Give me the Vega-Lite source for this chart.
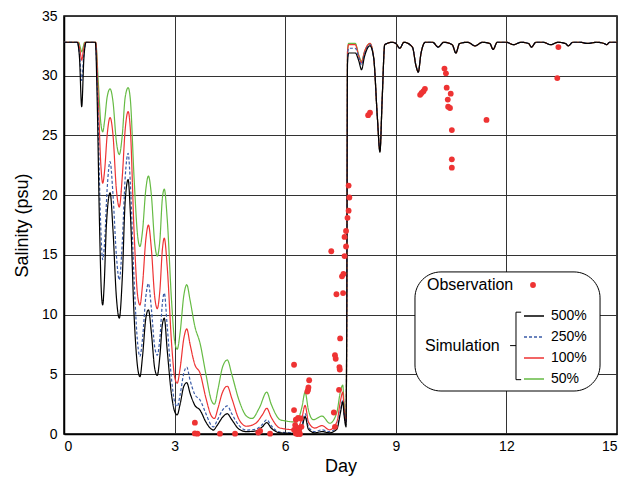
{
  "$schema": "https://vega.github.io/schema/vega-lite/v6.json",
  "width": 553,
  "height": 418,
  "autosize": "none",
  "padding": {"left": 64, "top": 16, "right": 10, "bottom": 44},
  "config": {
    "font": "Liberation Sans",
    "view": {"stroke": "#000", "strokeWidth": 1.5},
    "axis": {"gridColor": "#333", "gridOpacity": 1, "gridWidth": 1, "domainColor": "#000", "domainWidth": 1.5, "ticks": false, "labelFontSize": 14, "labelColor": "#000", "titleFontSize": 18, "titleFontWeight": "normal", "titleColor": "#000"}
  },
  "datasets": {
    "sim": [
      {"s":"50%","d":0,"v":32.8},{"s":"50%","d":0.4,"v":32.8},{"s":"50%","d":0.44,"v":32.4},{"s":"50%","d":0.48,"v":32.0},{"s":"50%","d":0.52,"v":32.4},{"s":"50%","d":0.56,"v":32.8},{"s":"50%","d":0.86,"v":32.8},{"s":"50%","d":0.93,"v":29.5},{"s":"50%","d":1.0,"v":26},{"s":"50%","d":1.05,"v":25.3},{"s":"50%","d":1.1,"v":26.2},{"s":"50%","d":1.17,"v":28.2},{"s":"50%","d":1.25,"v":28.9},{"s":"50%","d":1.33,"v":27.8},{"s":"50%","d":1.42,"v":24.5},{"s":"50%","d":1.5,"v":23.4},{"s":"50%","d":1.58,"v":25},{"s":"50%","d":1.66,"v":28.2},{"s":"50%","d":1.74,"v":29.0},{"s":"50%","d":1.8,"v":28},{"s":"50%","d":1.9,"v":21.5},{"s":"50%","d":2.0,"v":16.5},{"s":"50%","d":2.06,"v":15.7},{"s":"50%","d":2.13,"v":17},{"s":"50%","d":2.22,"v":20.5},{"s":"50%","d":2.29,"v":21.6},{"s":"50%","d":2.37,"v":20},{"s":"50%","d":2.46,"v":16},{"s":"50%","d":2.53,"v":14.9},{"s":"50%","d":2.6,"v":16.2},{"s":"50%","d":2.67,"v":19.8},{"s":"50%","d":2.72,"v":20.5},{"s":"50%","d":2.8,"v":18},{"s":"50%","d":2.92,"v":11},{"s":"50%","d":3.0,"v":7.8},{"s":"50%","d":3.07,"v":7.1},{"s":"50%","d":3.15,"v":8.5},{"s":"50%","d":3.25,"v":11.6},{"s":"50%","d":3.33,"v":12.5},{"s":"50%","d":3.42,"v":11.2},{"s":"50%","d":3.55,"v":9},{"s":"50%","d":3.69,"v":7.6},{"s":"50%","d":3.85,"v":5},{"s":"50%","d":4.0,"v":2.8},{"s":"50%","d":4.08,"v":2.5},{"s":"50%","d":4.18,"v":3.8},{"s":"50%","d":4.3,"v":5.6},{"s":"50%","d":4.43,"v":6.2},{"s":"50%","d":4.55,"v":5},{"s":"50%","d":4.75,"v":2.8},{"s":"50%","d":4.95,"v":1.5},{"s":"50%","d":5.1,"v":1.3},{"s":"50%","d":5.3,"v":2.2},{"s":"50%","d":5.5,"v":3.5},{"s":"50%","d":5.62,"v":2.5},{"s":"50%","d":5.86,"v":1.2},{"s":"50%","d":6.0,"v":1.1},{"s":"50%","d":6.3,"v":1.0},{"s":"50%","d":6.45,"v":2.2},{"s":"50%","d":6.54,"v":3.5},{"s":"50%","d":6.63,"v":2.0},{"s":"50%","d":6.76,"v":1.2},{"s":"50%","d":7.0,"v":1.5},{"s":"50%","d":7.21,"v":0.9},{"s":"50%","d":7.4,"v":1.8},{"s":"50%","d":7.5,"v":3.6},{"s":"50%","d":7.56,"v":4.1},{"s":"50%","d":7.6,"v":2.5},{"s":"50%","d":7.65,"v":1.2},{"s":"50%","d":7.67,"v":10},{"s":"50%","d":7.69,"v":32},{"s":"50%","d":7.72,"v":32.7},{"s":"50%","d":7.9,"v":32.7},{"s":"50%","d":8.0,"v":31.7},{"s":"50%","d":8.07,"v":31.2},{"s":"50%","d":8.15,"v":32},{"s":"50%","d":8.3,"v":32.7},
      {"s":"50%","d":8.4,"v":31.5},{"s":"50%","d":8.5,"v":26.5},{"s":"50%","d":8.57,"v":23.7},{"s":"50%","d":8.63,"v":28},{"s":"50%","d":8.7,"v":32.6},{"s":"50%","d":8.9,"v":32.8},{"s":"50%","d":9.0,"v":32.7},{"s":"50%","d":9.11,"v":32.3},{"s":"50%","d":9.22,"v":32.8},{"s":"50%","d":9.45,"v":32.4},{"s":"50%","d":9.55,"v":30.8},{"s":"50%","d":9.61,"v":30.3},{"s":"50%","d":9.68,"v":31.8},{"s":"50%","d":9.8,"v":32.8},{"s":"50%","d":10.0,"v":32.8},{"s":"50%","d":10.15,"v":32.4},{"s":"50%","d":10.3,"v":32.8},{"s":"50%","d":10.53,"v":32.6},{"s":"50%","d":10.63,"v":31.9},{"s":"50%","d":10.73,"v":32.7},{"s":"50%","d":10.95,"v":32.8},{"s":"50%","d":11.15,"v":32.5},{"s":"50%","d":11.35,"v":32.8},{"s":"50%","d":11.55,"v":32.7},{"s":"50%","d":11.64,"v":32.2},{"s":"50%","d":11.75,"v":32.8},{"s":"50%","d":12.0,"v":32.8},{"s":"50%","d":12.19,"v":32.6},{"s":"50%","d":12.4,"v":32.8},{"s":"50%","d":12.6,"v":32.7},{"s":"50%","d":12.68,"v":32.4},{"s":"50%","d":12.8,"v":32.8},{"s":"50%","d":13.0,"v":32.8},{"s":"50%","d":13.2,"v":32.6},{"s":"50%","d":13.4,"v":32.8},{"s":"50%","d":13.6,"v":32.7},{"s":"50%","d":13.68,"v":32.5},{"s":"50%","d":13.8,"v":32.8},{"s":"50%","d":14.0,"v":32.8},{"s":"50%","d":14.2,"v":32.7},{"s":"50%","d":14.45,"v":32.8},{"s":"50%","d":14.65,"v":32.7},{"s":"50%","d":14.72,"v":32.6},{"s":"50%","d":14.8,"v":32.8},{"s":"50%","d":15.0,"v":32.8},

      {"s":"100%","d":0,"v":32.8},{"s":"100%","d":0.38,"v":32.8},{"s":"100%","d":0.43,"v":32.2},{"s":"100%","d":0.48,"v":31.3},{"s":"100%","d":0.53,"v":32.2},{"s":"100%","d":0.58,"v":32.8},{"s":"100%","d":0.86,"v":32.8},{"s":"100%","d":0.93,"v":28},{"s":"100%","d":1.0,"v":22.5},{"s":"100%","d":1.05,"v":21.0},{"s":"100%","d":1.1,"v":22},{"s":"100%","d":1.17,"v":25},{"s":"100%","d":1.25,"v":26.5},{"s":"100%","d":1.33,"v":25},{"s":"100%","d":1.42,"v":20.5},{"s":"100%","d":1.5,"v":19.0},{"s":"100%","d":1.58,"v":21.5},{"s":"100%","d":1.66,"v":25.5},{"s":"100%","d":1.74,"v":27.0},{"s":"100%","d":1.8,"v":25.5},{"s":"100%","d":1.9,"v":17},{"s":"100%","d":2.0,"v":11.5},{"s":"100%","d":2.06,"v":10.8},{"s":"100%","d":2.13,"v":12.5},{"s":"100%","d":2.22,"v":16.3},{"s":"100%","d":2.29,"v":17.5},{"s":"100%","d":2.37,"v":15.5},{"s":"100%","d":2.46,"v":11.5},{"s":"100%","d":2.53,"v":10.5},{"s":"100%","d":2.6,"v":12},{"s":"100%","d":2.67,"v":15.5},{"s":"100%","d":2.72,"v":16.4},{"s":"100%","d":2.8,"v":14},{"s":"100%","d":2.92,"v":7.5},{"s":"100%","d":3.0,"v":4.8},{"s":"100%","d":3.07,"v":4.25},{"s":"100%","d":3.15,"v":5.5},{"s":"100%","d":3.25,"v":8.0},{"s":"100%","d":3.33,"v":8.8},{"s":"100%","d":3.42,"v":7.5},{"s":"100%","d":3.55,"v":5.8},{"s":"100%","d":3.69,"v":5.1},{"s":"100%","d":3.85,"v":3.0},{"s":"100%","d":4.0,"v":1.5},{"s":"100%","d":4.08,"v":1.3},{"s":"100%","d":4.18,"v":2.2},{"s":"100%","d":4.3,"v":3.5},{"s":"100%","d":4.43,"v":4.0},{"s":"100%","d":4.55,"v":3.0},{"s":"100%","d":4.75,"v":1.2},{"s":"100%","d":4.95,"v":0.65},{"s":"100%","d":5.2,"v":0.9},{"s":"100%","d":5.38,"v":1.6},{"s":"100%","d":5.5,"v":2.15},{"s":"100%","d":5.62,"v":1.4},{"s":"100%","d":5.86,"v":0.5},{"s":"100%","d":6.3,"v":0.35},{"s":"100%","d":6.45,"v":1.3},{"s":"100%","d":6.54,"v":2.4},{"s":"100%","d":6.63,"v":1.0},{"s":"100%","d":6.8,"v":0.5},{"s":"100%","d":7.0,"v":0.7},{"s":"100%","d":7.2,"v":0.35},{"s":"100%","d":7.4,"v":1.0},{"s":"100%","d":7.5,"v":2.8},{"s":"100%","d":7.56,"v":3.5},{"s":"100%","d":7.6,"v":2.0},{"s":"100%","d":7.65,"v":1.0},{"s":"100%","d":7.67,"v":10},{"s":"100%","d":7.69,"v":32},{"s":"100%","d":7.72,"v":32.6},{"s":"100%","d":7.9,"v":32.6},{"s":"100%","d":8.0,"v":31.6},{"s":"100%","d":8.07,"v":31.1},{"s":"100%","d":8.15,"v":32},{"s":"100%","d":8.3,"v":32.7},
      {"s":"100%","d":8.4,"v":31.5},{"s":"100%","d":8.5,"v":26.5},{"s":"100%","d":8.57,"v":23.7},{"s":"100%","d":8.63,"v":28},{"s":"100%","d":8.7,"v":32.6},{"s":"100%","d":8.9,"v":32.8},{"s":"100%","d":9.0,"v":32.7},{"s":"100%","d":9.11,"v":32.3},{"s":"100%","d":9.22,"v":32.8},{"s":"100%","d":9.45,"v":32.4},{"s":"100%","d":9.55,"v":30.8},{"s":"100%","d":9.61,"v":30.3},{"s":"100%","d":9.68,"v":31.8},{"s":"100%","d":9.8,"v":32.8},{"s":"100%","d":10.0,"v":32.8},{"s":"100%","d":10.15,"v":32.4},{"s":"100%","d":10.3,"v":32.8},{"s":"100%","d":10.53,"v":32.6},{"s":"100%","d":10.63,"v":31.9},{"s":"100%","d":10.73,"v":32.7},{"s":"100%","d":10.95,"v":32.8},{"s":"100%","d":11.15,"v":32.5},{"s":"100%","d":11.35,"v":32.8},{"s":"100%","d":11.55,"v":32.7},{"s":"100%","d":11.64,"v":32.2},{"s":"100%","d":11.75,"v":32.8},{"s":"100%","d":12.0,"v":32.8},{"s":"100%","d":12.19,"v":32.6},{"s":"100%","d":12.4,"v":32.8},{"s":"100%","d":12.6,"v":32.7},{"s":"100%","d":12.68,"v":32.4},{"s":"100%","d":12.8,"v":32.8},{"s":"100%","d":13.0,"v":32.8},{"s":"100%","d":13.2,"v":32.6},{"s":"100%","d":13.4,"v":32.8},{"s":"100%","d":13.6,"v":32.7},{"s":"100%","d":13.68,"v":32.5},{"s":"100%","d":13.8,"v":32.8},{"s":"100%","d":14.0,"v":32.8},{"s":"100%","d":14.2,"v":32.7},{"s":"100%","d":14.45,"v":32.8},{"s":"100%","d":14.65,"v":32.7},{"s":"100%","d":14.72,"v":32.6},{"s":"100%","d":14.8,"v":32.8},{"s":"100%","d":15.0,"v":32.8},

      {"s":"250%","d":0,"v":32.8},{"s":"250%","d":0.36,"v":32.8},{"s":"250%","d":0.42,"v":31.8},{"s":"250%","d":0.48,"v":29.6},{"s":"250%","d":0.54,"v":31.8},{"s":"250%","d":0.6,"v":32.8},{"s":"250%","d":0.85,"v":32.8},{"s":"250%","d":0.91,"v":28.5},{"s":"250%","d":0.98,"v":19},{"s":"250%","d":1.05,"v":14.6},{"s":"250%","d":1.1,"v":16},{"s":"250%","d":1.17,"v":20.5},{"s":"250%","d":1.25,"v":22.8},{"s":"250%","d":1.33,"v":20},{"s":"250%","d":1.42,"v":15},{"s":"250%","d":1.5,"v":12.9},{"s":"250%","d":1.58,"v":16},{"s":"250%","d":1.66,"v":21.5},{"s":"250%","d":1.74,"v":23.5},{"s":"250%","d":1.8,"v":21},{"s":"250%","d":1.9,"v":13},{"s":"250%","d":2.0,"v":7.5},{"s":"250%","d":2.06,"v":6.5},{"s":"250%","d":2.13,"v":8},{"s":"250%","d":2.22,"v":11.5},{"s":"250%","d":2.29,"v":12.6},{"s":"250%","d":2.37,"v":10.5},{"s":"250%","d":2.46,"v":7.3},{"s":"250%","d":2.53,"v":6.6},{"s":"250%","d":2.6,"v":8},{"s":"250%","d":2.67,"v":11},{"s":"250%","d":2.72,"v":11.8},{"s":"250%","d":2.8,"v":9},{"s":"250%","d":2.92,"v":4.5},{"s":"250%","d":3.0,"v":2.7},{"s":"250%","d":3.07,"v":2.3},{"s":"250%","d":3.15,"v":3.3},{"s":"250%","d":3.25,"v":5.1},{"s":"250%","d":3.33,"v":5.6},{"s":"250%","d":3.42,"v":4.5},{"s":"250%","d":3.55,"v":3.3},{"s":"250%","d":3.69,"v":2.85},{"s":"250%","d":3.85,"v":1.7},{"s":"250%","d":4.0,"v":0.7},{"s":"250%","d":4.05,"v":0.6},{"s":"250%","d":4.15,"v":1.1},{"s":"250%","d":4.3,"v":2.0},{"s":"250%","d":4.43,"v":2.35},{"s":"250%","d":4.55,"v":1.7},{"s":"250%","d":4.75,"v":0.7},{"s":"250%","d":4.95,"v":0.33},{"s":"250%","d":5.2,"v":0.4},{"s":"250%","d":5.38,"v":0.8},{"s":"250%","d":5.5,"v":1.2},{"s":"250%","d":5.62,"v":0.7},{"s":"250%","d":5.86,"v":0.15},{"s":"250%","d":6.3,"v":0.1},{"s":"250%","d":6.45,"v":0.7},{"s":"250%","d":6.54,"v":1.7},{"s":"250%","d":6.63,"v":0.6},{"s":"250%","d":6.8,"v":0.2},{"s":"250%","d":7.0,"v":0.35},{"s":"250%","d":7.2,"v":0.2},{"s":"250%","d":7.4,"v":0.6},{"s":"250%","d":7.5,"v":2.0},{"s":"250%","d":7.56,"v":2.8},{"s":"250%","d":7.6,"v":1.6},{"s":"250%","d":7.65,"v":0.8},{"s":"250%","d":7.67,"v":10},{"s":"250%","d":7.69,"v":31.5},{"s":"250%","d":7.72,"v":32.3},{"s":"250%","d":7.9,"v":32.3},{"s":"250%","d":8.0,"v":31.5},{"s":"250%","d":8.07,"v":30.9},{"s":"250%","d":8.15,"v":31.8},{"s":"250%","d":8.3,"v":32.6},
      {"s":"250%","d":8.4,"v":31.5},{"s":"250%","d":8.5,"v":26.5},{"s":"250%","d":8.57,"v":23.7},{"s":"250%","d":8.63,"v":28},{"s":"250%","d":8.7,"v":32.6},{"s":"250%","d":8.9,"v":32.8},{"s":"250%","d":9.0,"v":32.7},{"s":"250%","d":9.11,"v":32.3},{"s":"250%","d":9.22,"v":32.8},{"s":"250%","d":9.45,"v":32.4},{"s":"250%","d":9.55,"v":30.8},{"s":"250%","d":9.61,"v":30.3},{"s":"250%","d":9.68,"v":31.8},{"s":"250%","d":9.8,"v":32.8},{"s":"250%","d":10.0,"v":32.8},{"s":"250%","d":10.15,"v":32.4},{"s":"250%","d":10.3,"v":32.8},{"s":"250%","d":10.53,"v":32.6},{"s":"250%","d":10.63,"v":31.9},{"s":"250%","d":10.73,"v":32.7},{"s":"250%","d":10.95,"v":32.8},{"s":"250%","d":11.15,"v":32.5},{"s":"250%","d":11.35,"v":32.8},{"s":"250%","d":11.55,"v":32.7},{"s":"250%","d":11.64,"v":32.2},{"s":"250%","d":11.75,"v":32.8},{"s":"250%","d":12.0,"v":32.8},{"s":"250%","d":12.19,"v":32.6},{"s":"250%","d":12.4,"v":32.8},{"s":"250%","d":12.6,"v":32.7},{"s":"250%","d":12.68,"v":32.4},{"s":"250%","d":12.8,"v":32.8},{"s":"250%","d":13.0,"v":32.8},{"s":"250%","d":13.2,"v":32.6},{"s":"250%","d":13.4,"v":32.8},{"s":"250%","d":13.6,"v":32.7},{"s":"250%","d":13.68,"v":32.5},{"s":"250%","d":13.8,"v":32.8},{"s":"250%","d":14.0,"v":32.8},{"s":"250%","d":14.2,"v":32.7},{"s":"250%","d":14.45,"v":32.8},{"s":"250%","d":14.65,"v":32.7},{"s":"250%","d":14.72,"v":32.6},{"s":"250%","d":14.8,"v":32.8},{"s":"250%","d":15.0,"v":32.8},

      {"s":"500%","d":0,"v":32.8},{"s":"500%","d":0.36,"v":32.8},{"s":"500%","d":0.42,"v":31.5},{"s":"500%","d":0.48,"v":27.4},{"s":"500%","d":0.54,"v":31.5},{"s":"500%","d":0.6,"v":32.8},{"s":"500%","d":0.85,"v":32.8},{"s":"500%","d":0.9,"v":28},{"s":"500%","d":0.96,"v":18},{"s":"500%","d":1.02,"v":11.5},{"s":"500%","d":1.05,"v":10.8},{"s":"500%","d":1.09,"v":12.5},{"s":"500%","d":1.15,"v":17.5},{"s":"500%","d":1.25,"v":20.2},{"s":"500%","d":1.33,"v":17},{"s":"500%","d":1.42,"v":11.5},{"s":"500%","d":1.5,"v":9.7},{"s":"500%","d":1.58,"v":13},{"s":"500%","d":1.66,"v":19.5},{"s":"500%","d":1.74,"v":21.3},{"s":"500%","d":1.8,"v":18.5},{"s":"500%","d":1.9,"v":10},{"s":"500%","d":2.0,"v":5.5},{"s":"500%","d":2.06,"v":4.8},{"s":"500%","d":2.13,"v":6.5},{"s":"500%","d":2.22,"v":9.7},{"s":"500%","d":2.29,"v":10.4},{"s":"500%","d":2.37,"v":8.5},{"s":"500%","d":2.46,"v":5.5},{"s":"500%","d":2.53,"v":4.9},{"s":"500%","d":2.6,"v":6.5},{"s":"500%","d":2.67,"v":9.2},{"s":"500%","d":2.72,"v":9.7},{"s":"500%","d":2.8,"v":7},{"s":"500%","d":2.92,"v":3.2},{"s":"500%","d":3.0,"v":1.9},{"s":"500%","d":3.07,"v":1.6},{"s":"500%","d":3.15,"v":2.5},{"s":"500%","d":3.25,"v":4.0},{"s":"500%","d":3.33,"v":4.3},{"s":"500%","d":3.42,"v":3.4},{"s":"500%","d":3.55,"v":2.4},{"s":"500%","d":3.69,"v":2.0},{"s":"500%","d":3.85,"v":1.0},{"s":"500%","d":4.0,"v":0.4},{"s":"500%","d":4.05,"v":0.33},{"s":"500%","d":4.15,"v":0.7},{"s":"500%","d":4.3,"v":1.4},{"s":"500%","d":4.43,"v":1.7},{"s":"500%","d":4.55,"v":1.2},{"s":"500%","d":4.75,"v":0.4},{"s":"500%","d":4.95,"v":0.2},{"s":"500%","d":5.2,"v":0.25},{"s":"500%","d":5.38,"v":0.6},{"s":"500%","d":5.5,"v":0.95},{"s":"500%","d":5.62,"v":0.5},{"s":"500%","d":5.86,"v":0.1},{"s":"500%","d":6.3,"v":0.05},{"s":"500%","d":6.45,"v":0.5},{"s":"500%","d":6.54,"v":1.45},{"s":"500%","d":6.63,"v":0.4},{"s":"500%","d":6.8,"v":0.1},{"s":"500%","d":7.0,"v":0.2},{"s":"500%","d":7.2,"v":0.1},{"s":"500%","d":7.4,"v":0.4},{"s":"500%","d":7.5,"v":1.8},{"s":"500%","d":7.56,"v":2.7},{"s":"500%","d":7.6,"v":1.5},{"s":"500%","d":7.65,"v":0.6},{"s":"500%","d":7.67,"v":10},{"s":"500%","d":7.69,"v":31.0},{"s":"500%","d":7.72,"v":31.9},{"s":"500%","d":7.9,"v":31.9},{"s":"500%","d":8.0,"v":31.2},{"s":"500%","d":8.07,"v":30.5},{"s":"500%","d":8.15,"v":31.6},{"s":"500%","d":8.3,"v":32.5},
      {"s":"500%","d":8.4,"v":31.5},{"s":"500%","d":8.5,"v":26.5},{"s":"500%","d":8.57,"v":23.6},{"s":"500%","d":8.63,"v":28},{"s":"500%","d":8.7,"v":32.6},{"s":"500%","d":8.9,"v":32.8},{"s":"500%","d":9.0,"v":32.7},{"s":"500%","d":9.11,"v":32.3},{"s":"500%","d":9.22,"v":32.8},{"s":"500%","d":9.45,"v":32.4},{"s":"500%","d":9.55,"v":30.8},{"s":"500%","d":9.61,"v":30.3},{"s":"500%","d":9.68,"v":31.8},{"s":"500%","d":9.8,"v":32.8},{"s":"500%","d":10.0,"v":32.8},{"s":"500%","d":10.15,"v":32.4},{"s":"500%","d":10.3,"v":32.8},{"s":"500%","d":10.53,"v":32.6},{"s":"500%","d":10.63,"v":31.9},{"s":"500%","d":10.73,"v":32.7},{"s":"500%","d":10.95,"v":32.8},{"s":"500%","d":11.15,"v":32.5},{"s":"500%","d":11.35,"v":32.8},{"s":"500%","d":11.55,"v":32.7},{"s":"500%","d":11.64,"v":32.2},{"s":"500%","d":11.75,"v":32.8},{"s":"500%","d":12.0,"v":32.8},{"s":"500%","d":12.19,"v":32.6},{"s":"500%","d":12.4,"v":32.8},{"s":"500%","d":12.6,"v":32.7},{"s":"500%","d":12.68,"v":32.4},{"s":"500%","d":12.8,"v":32.8},{"s":"500%","d":13.0,"v":32.8},{"s":"500%","d":13.2,"v":32.6},{"s":"500%","d":13.4,"v":32.8},{"s":"500%","d":13.6,"v":32.7},{"s":"500%","d":13.68,"v":32.5},{"s":"500%","d":13.8,"v":32.8},{"s":"500%","d":14.0,"v":32.8},{"s":"500%","d":14.2,"v":32.7},{"s":"500%","d":14.45,"v":32.8},{"s":"500%","d":14.65,"v":32.7},{"s":"500%","d":14.72,"v":32.6},{"s":"500%","d":14.8,"v":32.8},{"s":"500%","d":15.0,"v":32.8}
    ],
    "obs": [
      {"d":3.55,"v":0.95},{"d":3.55,"v":0.05},{"d":3.62,"v":0.03},{"d":4.23,"v":0.03},{"d":4.64,"v":0.03},{"d":5.27,"v":0.12},{"d":5.32,"v":0.25},{"d":5.59,"v":0.03},
      {"d":6.24,"v":5.8},{"d":6.24,"v":2.0},{"d":6.29,"v":1.2},{"d":6.35,"v":1.35},{"d":6.42,"v":1.3},{"d":6.27,"v":0.75},{"d":6.31,"v":0.55},{"d":6.35,"v":0.35},{"d":6.29,"v":0.05},{"d":6.38,"v":0.2},{"d":6.44,"v":0.6},{"d":6.33,"v":0.0},{"d":6.24,"v":0.35},{"d":6.4,"v":0.0},{"d":6.36,"v":0.1},
      {"d":6.65,"v":4.5},{"d":6.63,"v":3.9},{"d":6.6,"v":3.55},{"d":6.62,"v":3.7},
      {"d":7.32,"v":1.8},{"d":7.35,"v":0.6},{"d":7.35,"v":6.6},{"d":7.37,"v":6.3},{"d":7.47,"v":5.6},{"d":7.48,"v":5.4},{"d":7.46,"v":3.7},{"d":7.49,"v":8.0},{"d":7.39,"v":11.7},{"d":7.57,"v":11.8},{"d":7.54,"v":13.2},{"d":7.58,"v":13.4},{"d":7.25,"v":15.3},{"d":7.61,"v":14.9},{"d":7.65,"v":15.7},{"d":7.61,"v":16.5},{"d":7.65,"v":17.0},{"d":7.69,"v":18.1},{"d":7.72,"v":18.7},{"d":7.74,"v":19.8},{"d":7.72,"v":20.8},
      {"d":8.25,"v":26.7},{"d":8.3,"v":26.9},
      {"d":9.66,"v":28.4},{"d":9.7,"v":28.55},{"d":9.75,"v":28.7},{"d":9.79,"v":28.9},
      {"d":10.32,"v":30.6},{"d":10.36,"v":30.2},{"d":10.38,"v":29.0},{"d":10.49,"v":28.5},{"d":10.41,"v":28.0},{"d":10.42,"v":27.4},{"d":10.47,"v":27.3},{"d":10.52,"v":25.45},{"d":10.52,"v":23.0},{"d":10.52,"v":22.3},
      {"d":11.46,"v":26.3},{"d":13.41,"v":32.4},{"d":13.38,"v":29.8}
    ]
  },
  "layer": [
    {
      "data": {"name": "sim"},
      "mark": {"type": "line", "interpolate": "monotone", "strokeWidth": 1.2},
      "encoding": {
        "x": {"field": "d", "type": "quantitative", "scale": {"domain": [0, 15], "nice": false}, "axis": {"values": [0, 3, 6, 9, 12, 15], "title": "Day", "labelPadding": 5, "titlePadding": 4}},
        "y": {"field": "v", "type": "quantitative", "scale": {"domain": [0, 35], "nice": false}, "axis": {"values": [0, 5, 10, 15, 20, 25, 30, 35], "title": "Salinity (psu)", "labelPadding": 7, "titlePadding": 10}},
        "color": {"field": "s", "type": "nominal", "scale": {"domain": ["500%", "250%", "100%", "50%"], "range": ["#000000", "#3a5ba8", "#ee3333", "#66bb44"]},
          "legend": {"orient": "none", "legendX": 361, "legendY": 289, "title": "Simulation", "titleOrient": "left", "titleAnchor": "middle", "titleBaseline": "middle", "titleFontSize": 16, "titleFontWeight": "normal", "titlePadding": 23, "symbolType": "stroke", "symbolSize": 400, "symbolStrokeWidth": 1.3, "labelFontSize": 14, "labelOffset": 6, "rowPadding": 3, "padding": 0}},
        "strokeDash": {"field": "s", "type": "nominal", "scale": {"domain": ["500%", "250%", "100%", "50%"], "range": [[1, 0], [3, 2], [1, 0], [1, 0]]}, "legend": {"orient": "none", "legendX": 361, "legendY": 289, "title": "Simulation", "titleOrient": "left", "titleAnchor": "middle", "titleBaseline": "middle", "titleFontSize": 16, "titleFontWeight": "normal", "titlePadding": 23, "symbolType": "stroke", "symbolSize": 400, "symbolStrokeWidth": 1.3, "labelFontSize": 14, "labelOffset": 6, "rowPadding": 3, "padding": 0}}
      }
    },
    {
      "data": {"values": [{}]},
      "mark": {"type": "rect", "cornerRadius": 26, "fill": "#ffffff", "stroke": "#000", "strokeWidth": 1},
      "encoding": {"x": {"datum": 9.52}, "x2": {"datum": 14.54}, "y": {"datum": 13.57}, "y2": {"datum": 3.6}}
    },
    {
      "data": {"values": [{}]},
      "mark": {"type": "rule", "stroke": "#000", "strokeWidth": 1},
      "encoding": {"x": {"datum": 12.26}, "y": {"datum": 10.2}, "y2": {"datum": 4.55}}
    },
    {
      "data": {"values": [{}]},
      "mark": {"type": "rule", "stroke": "#000", "strokeWidth": 1},
      "encoding": {"x": {"datum": 12.26}, "x2": {"datum": 12.4}, "y": {"datum": 10.2}}
    },
    {
      "data": {"values": [{}]},
      "mark": {"type": "rule", "stroke": "#000", "strokeWidth": 1},
      "encoding": {"x": {"datum": 12.26}, "x2": {"datum": 12.4}, "y": {"datum": 4.55}}
    },
    {
      "data": {"values": [{}]},
      "mark": {"type": "rule", "stroke": "#000", "strokeWidth": 1},
      "encoding": {"x": {"datum": 12.1}, "x2": {"datum": 12.26}, "y": {"datum": 7.4}}
    },
    {
      "data": {"name": "obs"},
      "mark": {"type": "point", "filled": true, "color": "#ee3333", "size": 34, "opacity": 1},
      "encoding": {
        "x": {"field": "d", "type": "quantitative"},
        "y": {"field": "v", "type": "quantitative"},
        "shape": {"datum": "Observation", "scale": {"range": ["circle"]},
          "legend": {"orient": "none", "legendX": 363, "legendY": 264, "title": "Observation", "titleOrient": "left", "titleAnchor": "middle", "titleBaseline": "middle", "titleFontSize": 16, "titleFontWeight": "normal", "titlePadding": 14, "labelExpr": "''", "symbolSize": 34, "symbolFillColor": "#ee3333", "symbolStrokeWidth": 0, "padding": 0}}
      }
    }
  ]
}
